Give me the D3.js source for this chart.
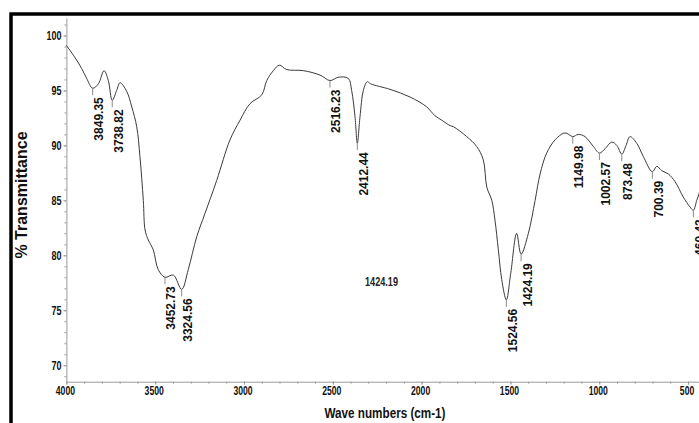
<!DOCTYPE html>
<html>
<head>
<meta charset="utf-8">
<script src="https://cdn.jsdelivr.net/npm/d3@7"></script>
<style>
  body { margin: 0; background: #fff; }
  svg { display: block; }
  .narrow { font-family: "Liberation Sans Narrow", "Arial Narrow", "Liberation Sans", Arial, sans-serif; font-weight: bold; }
  .bold { font-family: "Liberation Sans", Arial, sans-serif; font-weight: bold; }
</style>
</head>
<body>
<div id="chart"></div>
<script>
// FTIR spectrum, values

var width = 699;
var height = 423;

// spectrum trace (wave number, % transmittance)
var waveNumbers = [4000, 3952, 3914, 3886, 3852, 3820, 3788, 3764, 3742, 3717, 3698, 3660, 3632, 3604,
  3586, 3567, 3557, 3539, 3511, 3483, 3445, 3398, 3351, 3314, 3266, 3220, 3154, 3079, 3022, 2966,
  2900, 2872, 2835, 2801, 2760, 2666, 2572, 2516, 2469, 2413, 2394, 2375, 2362, 2347, 2328, 2306,
  2287, 2178, 2065, 1971, 1925, 1887, 1840, 1821, 1746, 1690, 1653, 1633, 1605, 1587, 1568, 1549,
  1523, 1498, 1465, 1440, 1399, 1361, 1333, 1296, 1249, 1202, 1183, 1149, 1118, 1080, 1033, 999,
  967, 930, 901, 873, 849, 827, 789, 752, 701, 676, 648, 611, 573, 527, 489, 470, 451, 438, 425];
var transmittance = [99.1, 98.0, 97.0, 96.1, 95.2, 95.6, 96.8, 95.9, 94.1, 95.0, 95.7, 94.9, 93.5, 91.7,
  89.0, 85.0, 82.3, 81.4, 80.5, 78.7, 78.0, 78.2, 76.9, 78.7, 81.7, 83.8, 86.8, 90.5, 92.3, 93.8,
  94.6, 95.9, 96.8, 97.3, 96.9, 96.8, 96.4, 95.9, 96.2, 96.1, 95.0, 92.6, 90.2, 92.6, 95.0, 95.8,
  95.6, 95.1, 94.4, 93.5, 92.7, 92.3, 91.8, 91.7, 90.8, 89.9, 88.7, 86.2, 85.0, 83.2, 80.5, 77.8,
  75.95, 78.4, 82.0, 80.1, 82.0, 85.0, 87.4, 89.3, 90.5, 91.1, 91.1, 90.8, 91.0, 90.8, 89.9, 89.3,
  89.7, 90.3, 90.0, 89.2, 90.0, 90.8, 90.2, 89.0, 87.6, 88.1, 87.7, 87.4, 86.7, 85.3, 84.4, 84.1, 85.0, 85.6, 86.6];

// peak markers
var peakLabels = ["3849.35", "3738.82", "3452.73", "3324.56", "2516.23", "2412.44", "1524.56",
  "1424.19", "1149.98", "1002.57", "873.48", "700.39", "460.43"];
var peakWave = [3852, 3742, 3445, 3351, 2516, 2362, 1523, 1440, 1149, 999, 873, 701, 470];
var peakT = [95.2, 94.1, 78.0, 76.9, 95.9, 90.2, 75.95, 80.1, 90.8, 89.3, 89.2, 87.6, 84.1];

// axis ticks
var xTicks = [4000, 3500, 3000, 2500, 2000, 1500, 1000, 500];
var yTicks = [70, 75, 80, 85, 90, 95, 100];

// stray label floating in the middle of the plot
var strayLabel = { text: "1424.19", wave: 2226, t: 77.2 };

var svg = d3.select("#chart")
  .append("svg")
  .attr("width", width)
  .attr("height", height);

var x = d3.scaleLinear()
  .domain([4000, 400])
  .range([66.4, 705.8]);

var y = d3.scaleLinear()
  .domain([68.5, 101.6])
  .range([381.7, 17.9]);

// no narrow font installed, so squeeze glyphs to the width of a narrow face
function squeeze(sel, perChar) {
  sel.attr("textLength", function() { return this.textContent.length * perChar; })
    .attr("lengthAdjust", "spacingAndGlyphs");
}

// outer frame (only top and left edges are in view)
svg.append("rect")
  .attr("x", 11)
  .attr("y", 14)
  .attr("width", 900)
  .attr("height", 600)
  .attr("fill", "none")
  .attr("stroke", "#000")
  .attr("stroke-width", 3.5);

// minor ticks
svg.append("g")
  .attr("transform", "translate(0," + y.range()[0] + ")")
  .call(d3.axisBottom(x).tickValues(d3.range(4000, 400, -100)).tickSize(2).tickFormat(""))
  .call(function(g) { g.select(".domain").remove(); })
  .selectAll("line").attr("stroke", "#9a9a9a");

svg.append("g")
  .attr("transform", "translate(" + x(4000) + ",0)")
  .call(d3.axisLeft(y).tickValues(d3.range(69, 102, 1)).tickSize(2).tickFormat(""))
  .call(function(g) { g.select(".domain").remove(); })
  .selectAll("line").attr("stroke", "#9a9a9a");

// x axis
var xAxis = svg.append("g")
  .attr("transform", "translate(0," + y.range()[0] + ")")
  .call(d3.axisBottom(x).tickValues(xTicks).tickSize(3).tickSizeOuter(0).tickPadding(2).tickFormat(d3.format("d")));
xAxis.attr("font-family", null);
xAxis.select(".domain").attr("stroke", "#9a9a9a");
xAxis.selectAll("line").attr("stroke", "#9a9a9a");
xAxis.selectAll("text")
  .attr("class", "narrow")
  .attr("font-size", 12)
  .attr("fill", "#111")
  .attr("dx", -1.5)
  .call(squeeze, 4.8);

// y axis
var yAxis = svg.append("g")
  .attr("transform", "translate(" + x(4000) + ",0)")
  .call(d3.axisLeft(y).tickValues(yTicks).tickSize(3).tickSizeOuter(0).tickPadding(2));
yAxis.attr("font-family", null);
yAxis.select(".domain").attr("stroke", "#9a9a9a");
yAxis.selectAll("line").attr("stroke", "#9a9a9a");
yAxis.selectAll("text")
  .attr("class", "narrow")
  .attr("font-size", 12)
  .attr("fill", "#111")
  .call(squeeze, 5);

// axis titles
svg.append("text")
  .attr("class", "narrow")
  .attr("x", 385)
  .attr("y", 418)
  .attr("text-anchor", "middle")
  .attr("font-size", 15)
  .attr("fill", "#111")
  .attr("textLength", 121)
  .attr("lengthAdjust", "spacingAndGlyphs")
  .text("Wave numbers (cm-1)");

svg.append("text")
  .attr("class", "bold")
  .attr("transform", "translate(27,195) rotate(-90)")
  .attr("text-anchor", "middle")
  .attr("font-size", 16)
  .attr("fill", "#111")
  .text("% Transmittance");

// spectrum
var spectrum = waveNumbers.map(function(w, i) { return { w: w, t: transmittance[i] }; });

var line = d3.line()
  .x(function(d) { return x(d.w); })
  .y(function(d) { return y(d.t); })
  .curve(d3.curveCatmullRom.alpha(0.5));

svg.append("path")
  .datum(spectrum)
  .attr("fill", "none")
  .attr("stroke", "#3a3a3a")
  .attr("stroke-width", 1)
  .attr("d", line);

// peak markers
var peaks = peakWave.map(function(w, i) { return { w: w, t: peakT[i], label: peakLabels[i] }; });

var pk = svg.selectAll(".peak")
  .data(peaks)
  .enter()
  .append("g")
  .attr("class", "peak");

pk.append("line")
  .attr("x1", function(d) { return x(d.w); })
  .attr("x2", function(d) { return x(d.w); })
  .attr("y1", function(d) { return y(d.t); })
  .attr("y2", function(d) { return y(d.t) + 7; })
  .attr("stroke", "#8a8a8a")
  .attr("stroke-width", 1);

pk.append("text")
  .attr("class", "bold")
  .attr("transform", function(d) {
    return "translate(" + (x(d.w) + 10.5) + "," + (y(d.t) + 9) + ") rotate(-90)";
  })
  .attr("text-anchor", "end")
  .attr("font-size", 12)
  .attr("fill", "#111")
  .text(function(d) { return d.label; });

// stray label
svg.append("text")
  .attr("class", "narrow")
  .attr("x", x(strayLabel.wave))
  .attr("y", y(strayLabel.t))
  .attr("text-anchor", "middle")
  .attr("font-size", 13)
  .attr("fill", "#222")
  .attr("textLength", 33)
  .attr("lengthAdjust", "spacingAndGlyphs")
  .text(strayLabel.text);
</script>
</body>
</html>
